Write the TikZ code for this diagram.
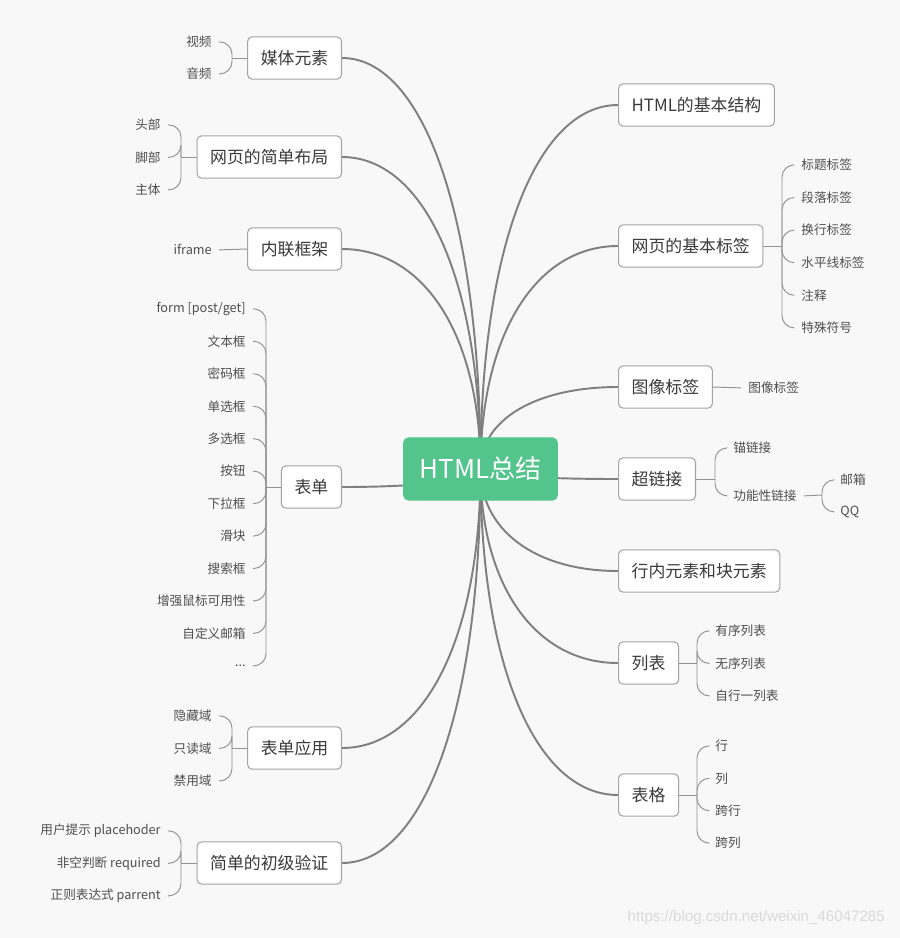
\documentclass[tikz,border=0pt]{standalone}
\usepackage{fontspec}
\setmainfont{Noto Sans CJK SC}
\newfontfamily\wmfont{Liberation Sans}
\usetikzlibrary{calc}
\usetikzlibrary{backgrounds}
\definecolor{bgcol}{HTML}{F8F8F8}
\definecolor{rootgreen}{HTML}{52C48C}
\definecolor{linecol}{HTML}{808080}
\definecolor{boxline}{HTML}{A4A4A4}
\definecolor{txtcol}{HTML}{3A3A3A}
\tikzset{
  box/.style={draw=boxline, fill=white, rounded corners=2.5pt, line width=0.6pt,
    minimum height=24pt, inner xsep=7.5pt, text=txtcol, font=\fontsize{9.6}{11}\selectfont},
  root/.style={fill=rootgreen, rounded corners=3pt, minimum height=36pt,
    minimum width=88pt, text=white, font=\fontsize{14.8}{16}\selectfont},
  leaf/.style={inner xsep=4pt, inner ysep=1pt, yshift=-0.5pt, text=txtcol!90,
    font=\fontsize{7.2}{9}\selectfont},
  branch/.style={draw=linecol, line width=1.1pt},
  brace/.style={draw=linecol!85, line width=0.55pt, rounded corners=7pt}
}
\begin{document}
\begin{tikzpicture}[x=0.02cm, y=-0.02cm]
  % Fond
  \begin{scope}[on background layer]
    \fill[bgcol] (0,0) rectangle (900,938);
  \end{scope}

  % Noeud central
  \node[root] (root) at (480.5,469) {HTML总结};

  % Branches de gauche
  \node[box, anchor=east] (media) at (342,58) {媒体元素};
  \node[box, anchor=east] (layout) at (342,157) {网页的简单布局};
  \node[box, anchor=east] (iframe) at (342,249) {内联框架};
  \node[box, anchor=east] (form) at (342,487) {表单};
  \node[box, anchor=east] (formapp) at (342,748) {表单应用};
  \node[box, anchor=east] (check) at (342,863) {简单的初级验证};

  % Branches de droite
  \node[box, anchor=west] (struct) at (618,105) {HTML的基本结构};
  \node[box, anchor=west] (tags) at (618,246) {网页的基本标签};
  \node[box, anchor=west] (img) at (618,387) {图像标签};
  \node[box, anchor=west] (link) at (618,479) {超链接};
  \node[box, anchor=west] (inline) at (618,571) {行内元素和块元素};
  \node[box, anchor=west] (list) at (618,663) {列表};
  \node[box, anchor=west] (table) at (618,795) {表格};

  % Courbes depuis le centre
  \begin{scope}[on background layer]
    \foreach \n in {media,layout,iframe,form,formapp,check}
      \draw[branch] (root.center) .. controls ($(root.center)!0.6!(root.center |- \n.east)$)
        and ($(root.center |- \n.east)!0.4!(\n.east)$) .. (\n.east);
    \foreach \n in {struct,tags,img,link,inline,list,table}
      \draw[branch] (root.center) .. controls ($(root.center)!0.6!(root.center |- \n.west)$)
        and ($(root.center |- \n.west)!0.4!(\n.west)$) .. (\n.west);
  \end{scope}

  % Feuilles a gauche
  \draw[brace] (media.west) -- (232,58) coordinate (mj);
  \foreach \t [count=\i from 0] in {视频,音频} {
    \node[leaf, anchor=east] (media-\i) at (219,{41+32*\i}) {\t};
    \draw[brace] (mj) |- (media-\i.east);
  }
  \draw[brace] (layout.west) -- (181,157) coordinate (lj);
  \foreach \t [count=\i from 0] in {头部,脚部,主体} {
    \node[leaf, anchor=east] (layout-\i) at (168,{124+32.5*\i}) {\t};
    \draw[brace] (lj) |- (layout-\i.east);
  }
  \node[leaf, anchor=east] (iframe-0) at (219,249) {iframe};
  \draw[brace] (iframe.west) -- (iframe-0.east);
  \draw[brace] (form.west) -- (266,487) coordinate (fj);
  \foreach \t [count=\i from 0] in {{form [post/get]},文本框,密码框,单选框,多选框,按钮,
      下拉框,滑块,搜索框,增强鼠标可用性,自定义邮箱} {
    \node[leaf, anchor=east] (form-\i) at (253,{308+32.45*\i}) {\t};
    \draw[brace] (fj) |- (form-\i.east);
  }
  \node[leaf, anchor=east] (form-11) at (253,665) {...};
  \draw[brace] (fj) |- (form-11.east);
  \draw[brace] (formapp.west) -- (232,748) coordinate (aj);
  \foreach \t [count=\i from 0] in {隐藏域,只读域,禁用域} {
    \node[leaf, anchor=east] (formapp-\i) at (219,{715+32.5*\i}) {\t};
    \draw[brace] (aj) |- (formapp-\i.east);
  }
  \draw[brace] (check.west) -- (181,863) coordinate (cj);
  \foreach \t [count=\i from 0] in {用户提示 placehoder,非空判断 required,正则表达式 parrent} {
    \node[leaf, anchor=east] (check-\i) at (168,{830+32.5*\i}) {\t};
    \draw[brace] (cj) |- (check-\i.east);
  }

  % Feuilles a droite
  \draw[brace] (tags.east) -- (782,246) coordinate (tj);
  \foreach \t [count=\i from 0] in {标题标签,段落标签,换行标签,水平线标签,注释,特殊符号} {
    \node[leaf, anchor=west] (tags-\i) at (794,{164+32.6*\i}) {\t};
    \draw[brace] (tj) |- (tags-\i.west);
  }
  \node[leaf, anchor=west] (img-0) at (741,387) {图像标签};
  \draw[brace] (img.east) -- (img-0.west);
  \draw[brace] (link.east) -- (715,479) coordinate (hj);
  \node[leaf, anchor=west] (link-0) at (726,447) {锚链接};
  \node[leaf, anchor=west] (link-1) at (726,495) {功能性链接};
  \draw[brace] (hj) |- (link-0.west);
  \draw[brace] (hj) |- (link-1.west);
  \draw[brace] (link-1.east) -- (822,495) coordinate (qj);
  \node[leaf, anchor=west] (mail) at (833,479) {邮箱};
  \node[leaf, anchor=west] (qq) at (833,511) {QQ};
  \draw[brace] (qj) |- (mail.west);
  \draw[brace] (qj) |- (qq.west);
  \draw[brace] (list.east) -- (697,663) coordinate (sj);
  \foreach \t [count=\i from 0] in {有序列表,无序列表,自行一列表} {
    \node[leaf, anchor=west] (list-\i) at (708,{630+32.5*\i}) {\t};
    \draw[brace] (sj) |- (list-\i.west);
  }
  \draw[brace] (table.east) -- (697,795) coordinate (bj);
  \foreach \t [count=\i from 0] in {行,列,跨行,跨列} {
    \node[leaf, anchor=west] (table-\i) at (708,{745+32.4*\i}) {\t};
    \draw[brace] (bj) |- (table-\i.west);
  }

  % Filigrane
  \node[anchor=east, text=gray!30, font=\wmfont\fontsize{8.6}{10}\selectfont] (wm) at (891,918)
    {https://blog.csdn.net/weixin\_46047285};
\end{tikzpicture}
\end{document}
